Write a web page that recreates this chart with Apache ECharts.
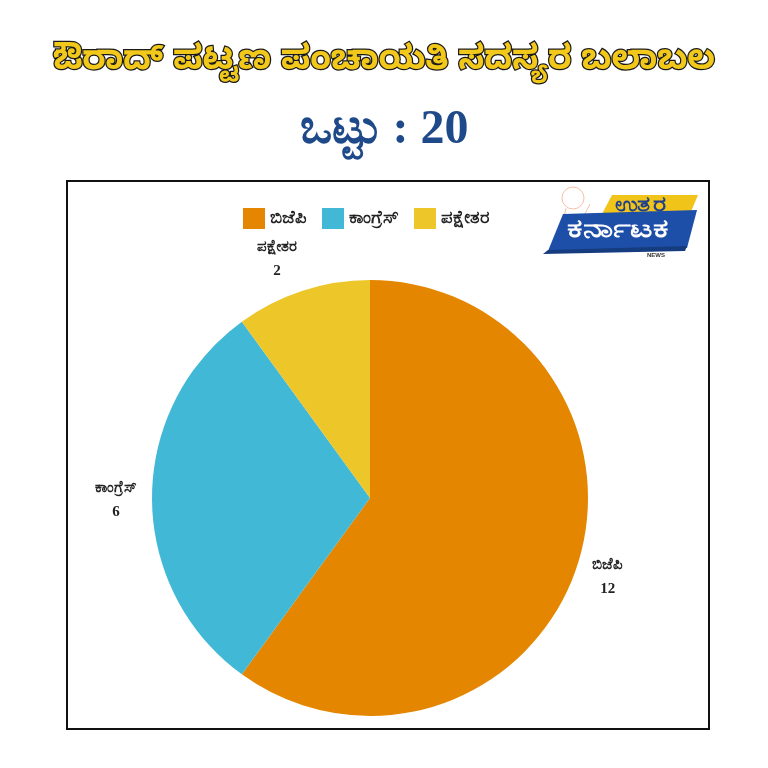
<!DOCTYPE html>
<html>
<head>
<meta charset="utf-8">
<script src="https://cdn.jsdelivr.net/npm/echarts@6/dist/echarts.min.js"></script>
<style>
  html, body { margin: 0; padding: 0; background: #fff; }
  #chart { width: 768px; height: 768px; }
</style>
</head>
<body>
<div id="chart"></div>
<script>
// 数据
const parties = ['ಬಿಜೆಪಿ', 'ಕಾಂಗ್ರೆಸ್', 'ಪಕ್ಷೇತರ'];
const seats = [12, 6, 2];
const colors = ['#E58600', '#41B8D5', '#EDC62A'];
const titleText = 'ಔರಾದ್ ಪಟ್ಟಣ ಪಂಚಾಯತಿ ಸದಸ್ಯರ ಬಲಾಬಲ';
const totalText = 'ಒಟ್ಟು : 20';

const chart = echarts.init(document.getElementById('chart'));

// 标签微调
const labelOffsets = [[-14, 8], [9, 2], [11, -20]];

const option = {
  animation: false,
  backgroundColor: '#fff',
  title: [
    {
      text: titleText,
      left: 'center',
      top: 44,
      textStyle: {
        fontSize: 34,
        fontWeight: 'bold',
        color: '#F2C81B',
        textBorderColor: '#1a1a1a',
        textBorderWidth: 2.5,
        fontFamily: 'Noto Sans Kannada, Noto Sans, sans-serif'
      }
    },
    {
      text: totalText,
      left: 'center',
      top: 102,
      textStyle: {
        fontSize: 48,
        fontWeight: 'bold',
        color: '#1F4A8A',
        fontFamily: 'Liberation Serif, DejaVu Serif, serif'
      }
    }
  ],
  legend: {
    top: 203,
    left: 238,
    itemWidth: 22,
    itemHeight: 21,
    itemGap: 15,
    icon: 'rect',
    textStyle: { fontSize: 18, color: '#222', fontWeight: 'bold' },
    data: parties
  },
  graphic: [
    // 外框
    {
      type: 'rect',
      shape: { x: 67, y: 181, width: 642, height: 548 },
      style: { fill: 'none', stroke: '#111', lineWidth: 2 },
      z: -1
    },
    // logo: 狮子线稿 (简化)
    {
      type: 'circle',
      shape: { cx: 573, cy: 198, r: 11 },
      style: { fill: 'none', stroke: '#F2A57A', lineWidth: 1, opacity: 0.7 }
    },
    {
      type: 'polyline',
      shape: { points: [[566, 208], [563, 222], [570, 216], [578, 222], [586, 212], [590, 204]] },
      style: { fill: 'none', stroke: '#F2A57A', lineWidth: 1, opacity: 0.7 }
    },
    {
      type: 'polygon',
      shape: { points: [[612, 195], [698, 195], [690, 214], [602, 214]] },
      style: { fill: '#F0C419' }
    },
    {
      type: 'text',
      x: 615, y: 195, scaleX: 1.18,
      style: { text: 'ಉತ್ತರ', fontSize: 21, fontWeight: 'bold', fill: '#1F3F8F' }
    },
    {
      type: 'polygon',
      shape: { points: [[563, 214], [697, 210], [687, 248], [548, 251]] },
      style: { fill: '#1E4FA8' }
    },
    {
      type: 'polygon',
      shape: { points: [[548, 250], [687, 246], [685, 251], [543, 254]] },
      style: { fill: '#163C80' }
    },
    {
      type: 'text',
      x: 567, y: 217, scaleX: 1.32,
      style: { text: 'ಕರ್ನಾಟಕ', fontSize: 26, fontWeight: 'bold', fill: '#fff' }
    },
    {
      type: 'text',
      x: 647, y: 252,
      style: { text: 'NEWS', fontSize: 6, fontWeight: 'bold', fill: '#333' }
    }
  ],
  series: [
    {
      type: 'pie',
      center: [370, 498],
      radius: [0, 218],
      startAngle: 90,
      clockwise: true,
      color: colors,
      label: {
        show: true,
        position: 'outside',
        formatter: '{a|{b}}\n{a|{c}}',
        rich: {
          a: {
            width: 56,
            align: 'center',
            fontSize: 15,
            fontWeight: 'bold',
            color: '#222',
            lineHeight: 24,
            fontFamily: 'Liberation Serif, DejaVu Serif, serif'
          }
        }
      },
      labelLine: { show: false, length: 12, length2: 0 },
      itemStyle: { borderWidth: 0 },
      data: parties.map((p, i) => ({
        name: p,
        value: seats[i],
        label: { offset: labelOffsets[i] }
      }))
    }
  ]
};

chart.setOption(option);
</script>
</body>
</html>
